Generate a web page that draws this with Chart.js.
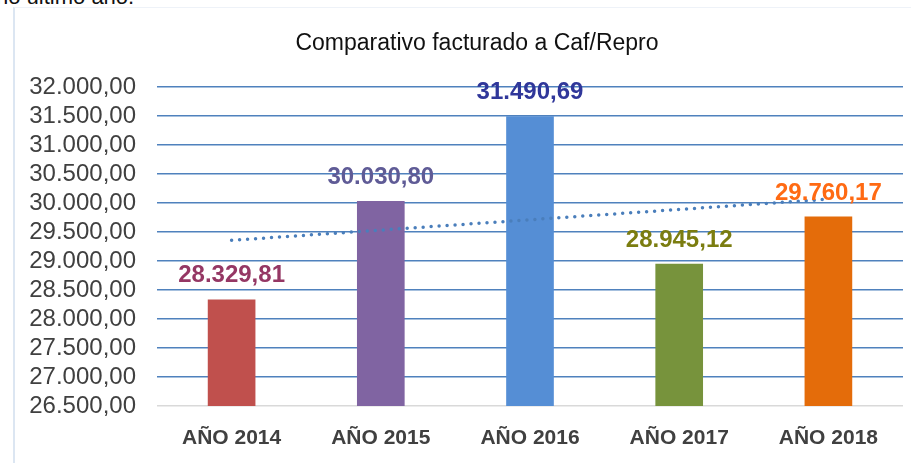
<!DOCTYPE html>
<html>
<head>
<meta charset="utf-8">
<script src="https://cdn.jsdelivr.net/npm/chart.js@4"></script>
<style>
  html, body { margin: 0; padding: 0; background: #fff; overflow: hidden; }
  #wrap { position: relative; width: 911px; height: 463px; }
  #top-text { position: absolute; left: -4px; top: -16px; font: 22px "Liberation Sans", Arial, sans-serif; color: #111; white-space: nowrap; }
  #frame { position: absolute; left: 13px; top: 7px; width: 920px; height: 470px; border-left: 2px solid #dce6f2; border-top: 1px solid #eef2f8; }
  #title { position: absolute; left: 277px; width: 400px; top: 29px; text-align: center; font: 23px "Liberation Sans", Arial, sans-serif; color: #111; white-space: nowrap; }
  #chart { position: absolute; left: 0; top: 0; }
</style>
</head>
<body>
<div id="wrap">
  <div id="top-text">no último año.</div>
  <div id="frame"></div>
  <canvas id="chart" width="911" height="463"></canvas>
  <div id="title">Comparativo facturado a Caf/Repro</div>
</div>
<script>
  const years = ['AÑO 2014', 'AÑO 2015', 'AÑO 2016', 'AÑO 2017', 'AÑO 2018'];
  const amounts = [28329.81, 30030.80, 31490.69, 28945.12, 29760.17];
  const barColors = ['#c0504d', '#8064a2', '#558ed5', '#77933c', '#e46c0a'];
  const labelColors = ['#953764', '#5f5b96', '#30379a', '#7b7d10', '#ff6a13'];
  // línea de tendencia (extremos)
  const trend = [29356, null, null, null, 30066];
  const yMin = 26500, yMax = 32000, yStep = 500;

  const fmt = (v) => {
    const [ent, dec] = Math.abs(v).toFixed(2).split('.');
    return ent.replace(/\B(?=(\d{3})+(?!\d))/g, '.') + ',' + dec;
  };

  const FONT = '"Liberation Sans", Arial, sans-serif';

  const valueLabels = {
    id: 'valueLabels',
    afterDatasetsDraw(chart) {
      const ctx = chart.ctx;
      const meta = chart.getDatasetMeta(0);
      ctx.save();
      ctx.font = 'bold 24px ' + FONT;
      ctx.textAlign = 'center';
      ctx.textBaseline = 'middle';
      meta.data.forEach((bar, i) => {
        ctx.fillStyle = labelColors[i];
        ctx.fillText(fmt(amounts[i]), bar.x, bar.y - 24);
      });
      ctx.restore();
    }
  };

  new Chart(document.getElementById('chart'), {
    type: 'bar',
    data: {
      labels: years,
      datasets: [
        {
          label: 'Facturado',
          data: amounts,
          backgroundColor: barColors,
          barThickness: 47,
          order: 1
        },
        {
          type: 'line',
          label: 'Tendencia',
          data: trend,
          spanGaps: true,
          borderColor: '#4a7ebb',
          borderWidth: 3.5,
          borderDash: [0, 8],
          borderCapStyle: 'round',
          pointRadius: 0,
          fill: false,
          order: 0
        }
      ]
    },
    options: {
      responsive: false,
      animation: false,
      layout: { padding: { left: 0, right: 8, top: 87, bottom: 0 } },
      plugins: {
        legend: { display: false },
        tooltip: { enabled: false },
        title: { display: false }
      },
      scales: {
        x: {
          grid: { display: false, drawTicks: false },
          border: { display: false },
          ticks: {
            color: '#404040',
            font: { family: FONT, size: 21, weight: 'bold' },
            padding: 20
          },
          afterFit(scale) { scale.height = 57; }
        },
        y: {
          min: yMin,
          max: yMax,
          border: { display: false },
          grid: {
            drawTicks: false,
            lineWidth: 1.5,
            color: (c) => c.tick && c.tick.value === yMin ? '#d9d9d9' : '#4f81bd'
          },
          ticks: {
            stepSize: yStep,
            autoSkip: false,
            color: '#404040',
            padding: 21,
            font: { family: FONT, size: 24, lineHeight: 1 },
            callback: (v) => fmt(v)
          },
          afterFit(scale) { scale.width = 157; }
        }
      }
    },
    plugins: [valueLabels]
  });
</script>
</body>
</html>
